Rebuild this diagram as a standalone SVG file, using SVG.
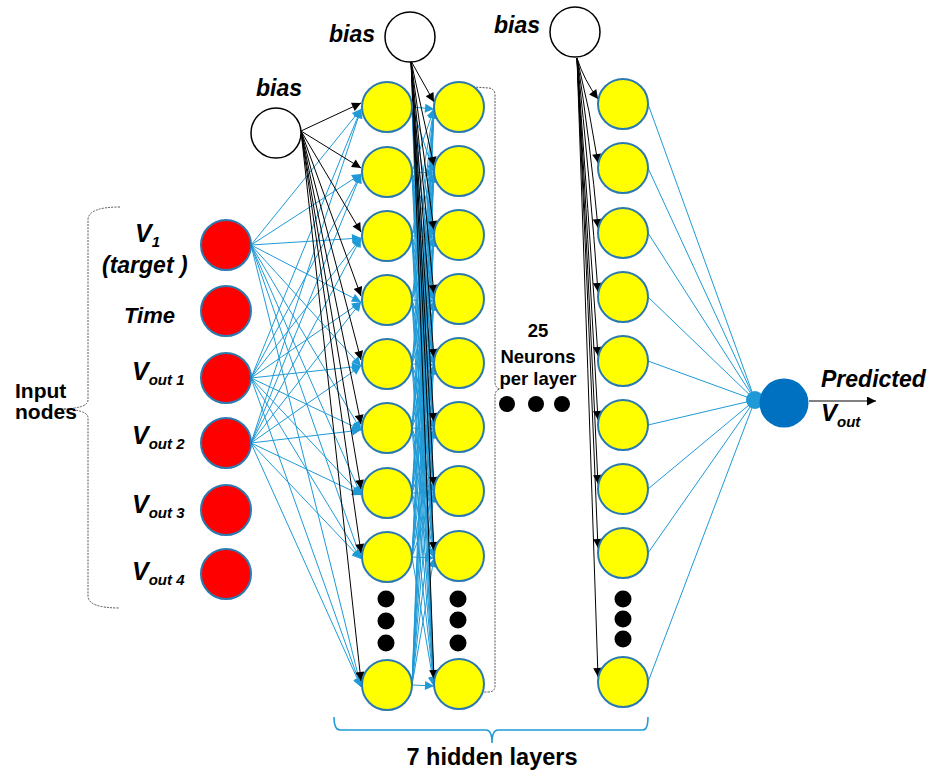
<svg xmlns="http://www.w3.org/2000/svg" width="936" height="774" viewBox="0 0 936 774">
<style>
.lb{stroke:#1f9ad6;stroke-width:1;fill:none}
.lba{stroke:#1f9ad6;stroke-width:1;fill:none;marker-end:url(#ab)}
.lk{stroke:#000;stroke-width:1;fill:none;marker-end:url(#ak)}
.in{fill:#ff0000;stroke:#2a7ab0;stroke-width:2}
.hn{fill:#ffff00;stroke:#2a7ab0;stroke-width:2}
.bn{fill:#fff;stroke:#000;stroke-width:1.5}
.dot{fill:#000}
.t{font-family:"Liberation Sans",Arial,sans-serif;font-weight:bold;fill:#000}
.ti{font-family:"Liberation Sans",Arial,sans-serif;font-weight:bold;font-style:italic;fill:#000}
</style>
<defs>
<marker id="ab" viewBox="0 0 10 10" refX="10" refY="5" markerWidth="11" markerHeight="9" markerUnits="userSpaceOnUse" orient="auto"><path d="M0,0 L10,5 L0,10 z" fill="#1f9ad6"/></marker>
<marker id="ak" viewBox="0 0 10 10" refX="10" refY="5" markerWidth="11" markerHeight="9" markerUnits="userSpaceOnUse" orient="auto"><path d="M0,0 L10,5 L0,10 z" fill="#000"/></marker>
</defs>
<rect width="936" height="774" fill="#fff"/>

<g id="connectors">
<!-- inputs to layer 1 -->
<line class="lba" x1="251" y1="245" x2="361" y2="109"/><line class="lba" x1="251" y1="245" x2="361" y2="174"/><line class="lba" x1="251" y1="245" x2="361" y2="238"/><line class="lba" x1="251" y1="245" x2="361" y2="302"/><line class="lba" x1="251" y1="245" x2="361" y2="366"/><line class="lba" x1="251" y1="245" x2="361" y2="430"/><line class="lba" x1="251" y1="245" x2="361" y2="495"/><line class="lba" x1="251" y1="245" x2="361" y2="559"/><line class="lba" x1="251" y1="245" x2="361" y2="687"/>
<line class="lba" x1="251" y1="378" x2="361" y2="109"/><line class="lba" x1="251" y1="378" x2="361" y2="174"/><line class="lba" x1="251" y1="378" x2="361" y2="238"/><line class="lba" x1="251" y1="378" x2="361" y2="302"/><line class="lba" x1="251" y1="378" x2="361" y2="366"/><line class="lba" x1="251" y1="378" x2="361" y2="430"/><line class="lba" x1="251" y1="378" x2="361" y2="495"/><line class="lba" x1="251" y1="378" x2="361" y2="559"/><line class="lba" x1="251" y1="378" x2="361" y2="687"/>
<line class="lba" x1="251" y1="443" x2="361" y2="109"/><line class="lba" x1="251" y1="443" x2="361" y2="174"/><line class="lba" x1="251" y1="443" x2="361" y2="238"/><line class="lba" x1="251" y1="443" x2="361" y2="302"/><line class="lba" x1="251" y1="443" x2="361" y2="366"/><line class="lba" x1="251" y1="443" x2="361" y2="430"/><line class="lba" x1="251" y1="443" x2="361" y2="495"/><line class="lba" x1="251" y1="443" x2="361" y2="559"/><line class="lba" x1="251" y1="443" x2="361" y2="687"/>
<!-- bias1 to layer 1 -->
<line class="lk" x1="301" y1="131" x2="361" y2="103"/><line class="lk" x1="301" y1="131" x2="361" y2="168"/><line class="lk" x1="301" y1="131" x2="361" y2="232"/><line class="lk" x1="301" y1="131" x2="361" y2="296"/><line class="lk" x1="301" y1="131" x2="361" y2="360"/><line class="lk" x1="301" y1="131" x2="361" y2="424"/><line class="lk" x1="301" y1="131" x2="361" y2="489"/><line class="lk" x1="301" y1="131" x2="361" y2="553"/><line class="lk" x1="301" y1="131" x2="361" y2="681"/>
<!-- layer 1 to layer 2 -->
<line class="lba" x1="412" y1="107" x2="434" y2="109"/><line class="lba" x1="412" y1="107" x2="434" y2="173"/><line class="lba" x1="412" y1="107" x2="434" y2="237"/><line class="lba" x1="412" y1="107" x2="434" y2="301"/><line class="lba" x1="412" y1="107" x2="434" y2="365"/><line class="lba" x1="412" y1="107" x2="434" y2="429"/><line class="lba" x1="412" y1="107" x2="434" y2="493"/><line class="lba" x1="412" y1="107" x2="434" y2="558"/><line class="lba" x1="412" y1="107" x2="434" y2="686"/>
<line class="lba" x1="412" y1="172" x2="434" y2="109"/><line class="lba" x1="412" y1="172" x2="434" y2="173"/><line class="lba" x1="412" y1="172" x2="434" y2="237"/><line class="lba" x1="412" y1="172" x2="434" y2="301"/><line class="lba" x1="412" y1="172" x2="434" y2="365"/><line class="lba" x1="412" y1="172" x2="434" y2="429"/><line class="lba" x1="412" y1="172" x2="434" y2="493"/><line class="lba" x1="412" y1="172" x2="434" y2="558"/><line class="lba" x1="412" y1="172" x2="434" y2="686"/>
<line class="lba" x1="412" y1="236" x2="434" y2="109"/><line class="lba" x1="412" y1="236" x2="434" y2="173"/><line class="lba" x1="412" y1="236" x2="434" y2="237"/><line class="lba" x1="412" y1="236" x2="434" y2="301"/><line class="lba" x1="412" y1="236" x2="434" y2="365"/><line class="lba" x1="412" y1="236" x2="434" y2="429"/><line class="lba" x1="412" y1="236" x2="434" y2="493"/><line class="lba" x1="412" y1="236" x2="434" y2="558"/><line class="lba" x1="412" y1="236" x2="434" y2="686"/>
<line class="lba" x1="412" y1="300" x2="434" y2="109"/><line class="lba" x1="412" y1="300" x2="434" y2="173"/><line class="lba" x1="412" y1="300" x2="434" y2="237"/><line class="lba" x1="412" y1="300" x2="434" y2="301"/><line class="lba" x1="412" y1="300" x2="434" y2="365"/><line class="lba" x1="412" y1="300" x2="434" y2="429"/><line class="lba" x1="412" y1="300" x2="434" y2="493"/><line class="lba" x1="412" y1="300" x2="434" y2="558"/><line class="lba" x1="412" y1="300" x2="434" y2="686"/>
<line class="lba" x1="412" y1="364" x2="434" y2="109"/><line class="lba" x1="412" y1="364" x2="434" y2="173"/><line class="lba" x1="412" y1="364" x2="434" y2="237"/><line class="lba" x1="412" y1="364" x2="434" y2="301"/><line class="lba" x1="412" y1="364" x2="434" y2="365"/><line class="lba" x1="412" y1="364" x2="434" y2="429"/><line class="lba" x1="412" y1="364" x2="434" y2="493"/><line class="lba" x1="412" y1="364" x2="434" y2="558"/><line class="lba" x1="412" y1="364" x2="434" y2="686"/>
<line class="lba" x1="412" y1="428" x2="434" y2="109"/><line class="lba" x1="412" y1="428" x2="434" y2="173"/><line class="lba" x1="412" y1="428" x2="434" y2="237"/><line class="lba" x1="412" y1="428" x2="434" y2="301"/><line class="lba" x1="412" y1="428" x2="434" y2="365"/><line class="lba" x1="412" y1="428" x2="434" y2="429"/><line class="lba" x1="412" y1="428" x2="434" y2="493"/><line class="lba" x1="412" y1="428" x2="434" y2="558"/><line class="lba" x1="412" y1="428" x2="434" y2="686"/>
<line class="lba" x1="412" y1="493" x2="434" y2="109"/><line class="lba" x1="412" y1="493" x2="434" y2="173"/><line class="lba" x1="412" y1="493" x2="434" y2="237"/><line class="lba" x1="412" y1="493" x2="434" y2="301"/><line class="lba" x1="412" y1="493" x2="434" y2="365"/><line class="lba" x1="412" y1="493" x2="434" y2="429"/><line class="lba" x1="412" y1="493" x2="434" y2="493"/><line class="lba" x1="412" y1="493" x2="434" y2="558"/><line class="lba" x1="412" y1="493" x2="434" y2="686"/>
<line class="lba" x1="412" y1="557" x2="434" y2="109"/><line class="lba" x1="412" y1="557" x2="434" y2="173"/><line class="lba" x1="412" y1="557" x2="434" y2="237"/><line class="lba" x1="412" y1="557" x2="434" y2="301"/><line class="lba" x1="412" y1="557" x2="434" y2="365"/><line class="lba" x1="412" y1="557" x2="434" y2="429"/><line class="lba" x1="412" y1="557" x2="434" y2="493"/><line class="lba" x1="412" y1="557" x2="434" y2="558"/><line class="lba" x1="412" y1="557" x2="434" y2="686"/>
<line class="lba" x1="412" y1="685" x2="434" y2="109"/><line class="lba" x1="412" y1="685" x2="434" y2="173"/><line class="lba" x1="412" y1="685" x2="434" y2="237"/><line class="lba" x1="412" y1="685" x2="434" y2="301"/><line class="lba" x1="412" y1="685" x2="434" y2="365"/><line class="lba" x1="412" y1="685" x2="434" y2="429"/><line class="lba" x1="412" y1="685" x2="434" y2="493"/><line class="lba" x1="412" y1="685" x2="434" y2="558"/><line class="lba" x1="412" y1="685" x2="434" y2="686"/>
<!-- bias2 to layer 2 -->
<line class="lk" x1="411" y1="61" x2="434" y2="102"/><line class="lk" x1="411" y1="61" x2="434" y2="166"/><line class="lk" x1="411" y1="61" x2="434" y2="230"/><line class="lk" x1="411" y1="61" x2="434" y2="294"/><line class="lk" x1="411" y1="61" x2="434" y2="358"/><line class="lk" x1="411" y1="61" x2="434" y2="422"/><line class="lk" x1="411" y1="61" x2="434" y2="486"/><line class="lk" x1="411" y1="61" x2="434" y2="551"/><line class="lk" x1="411" y1="61" x2="434" y2="679"/>
<!-- bias3 to last layer -->
<path class="lk" d="M577,58 Q584,80 598,99"/><path class="lk" d="M577,58 Q590,110 598,163"/><path class="lk" d="M577,58 Q590,140 598,228"/><path class="lk" d="M577,58 Q590,180 598,292"/><path class="lk" d="M577,58 Q588,210 598,356"/><path class="lk" d="M577,58 Q588,240 598,420"/><path class="lk" d="M577,58 Q588,270 598,484"/><path class="lk" d="M577,58 Q588,300 598,548"/><path class="lk" d="M577,58 Q588,370 598,677"/>
<!-- last layer to output -->
<line class="lb" x1="648" y1="104" x2="755" y2="400"/><line class="lb" x1="648" y1="168" x2="755" y2="400"/><line class="lb" x1="648" y1="233" x2="755" y2="400"/><line class="lb" x1="648" y1="297" x2="755" y2="400"/><line class="lb" x1="648" y1="361" x2="755" y2="400"/><line class="lb" x1="648" y1="425" x2="755" y2="400"/><line class="lb" x1="648" y1="489" x2="755" y2="400"/><line class="lb" x1="648" y1="553" x2="755" y2="400"/><line class="lb" x1="648" y1="682" x2="755" y2="400"/>
<!-- output arrow -->
<line class="lk" x1="809" y1="401" x2="876" y2="401"/>
</g>

<!-- braces -->
<g id="input-brace">
<path d="M120,207 Q88,207 88,220 L88,400 Q88,409 58,409 Q88,409 88,418 L88,596 Q88,608 120,608" fill="none" stroke="#555" stroke-width="1" stroke-dasharray="2 1.2"/>
<text class="t" x="15" y="398" font-size="21">Input</text>
<text class="t" x="15" y="419" font-size="21">nodes</text>
</g>
<g id="layer-brace">
<path d="M473,87 L489,88 Q495,89 495,95 L495,382 Q495,388 500,389 Q495,390 495,396 L495,686 Q495,692 488,692 L473,692" fill="none" stroke="#555" stroke-width="1" stroke-dasharray="2 1.2"/>
</g>
<g id="hidden-brace">
<path d="M334,717 Q334,730 340,730 L486,730 Q492,730 492,743 Q492,730 498,730 L643,730 Q648,730 648,717" fill="none" stroke="#1f9ad6" stroke-width="1.5"/>
<text class="t" x="492" y="765" font-size="23.5" text-anchor="middle">7 hidden layers</text>
</g>

<!-- input nodes -->
<g id="in-v1"><circle class="in" cx="226" cy="245" r="25"/><text class="ti" x="135" y="242" font-size="25">V<tspan font-size="15" dy="5">1</tspan></text><text class="ti" x="102" y="273" font-size="23">(target )</text></g>
<g id="in-time"><circle class="in" cx="226" cy="311" r="25"/><text class="ti" x="124" y="323" font-size="22">Time</text></g>
<g id="in-vout1"><circle class="in" cx="226" cy="378" r="25"/><text class="ti" x="132" y="380" font-size="25">V<tspan font-size="15" dy="5">out 1</tspan></text></g>
<g id="in-vout2"><circle class="in" cx="226" cy="443" r="25"/><text class="ti" x="132" y="444" font-size="25">V<tspan font-size="15" dy="5">out 2</tspan></text></g>
<g id="in-vout3"><circle class="in" cx="226" cy="510" r="25"/><text class="ti" x="132" y="513" font-size="25">V<tspan font-size="15" dy="5">out 3</tspan></text></g>
<g id="in-vout4"><circle class="in" cx="226" cy="574" r="25"/><text class="ti" x="132" y="580" font-size="25">V<tspan font-size="15" dy="5">out 4</tspan></text></g>

<!-- bias nodes -->
<g id="bias1"><circle class="bn" cx="276" cy="133" r="25"/><text class="ti" x="256" y="96" font-size="23">bias</text></g>
<g id="bias2"><circle class="bn" cx="410" cy="37" r="25"/><text class="ti" x="329" y="42" font-size="23">bias</text></g>
<g id="bias3"><circle class="bn" cx="575" cy="32" r="25"/><text class="ti" x="494" y="33" font-size="23">bias</text></g>

<!-- hidden layer 1 -->
<g id="h1-1"><circle class="hn" cx="387" cy="107" r="25"/></g>
<g id="h1-2"><circle class="hn" cx="387" cy="172" r="25"/></g>
<g id="h1-3"><circle class="hn" cx="387" cy="236" r="25"/></g>
<g id="h1-4"><circle class="hn" cx="387" cy="300" r="25"/></g>
<g id="h1-5"><circle class="hn" cx="387" cy="364" r="25"/></g>
<g id="h1-6"><circle class="hn" cx="387" cy="428" r="25"/></g>
<g id="h1-7"><circle class="hn" cx="387" cy="493" r="25"/></g>
<g id="h1-8"><circle class="hn" cx="387" cy="557" r="25"/></g>
<g id="h1-dots"><circle class="dot" cx="386" cy="599" r="8.5"/><circle class="dot" cx="386" cy="621" r="8.5"/><circle class="dot" cx="386" cy="643" r="8.5"/></g>
<g id="h1-25"><circle class="hn" cx="387" cy="685" r="25"/></g>

<!-- hidden layer 2 -->
<g id="h2-1"><circle class="hn" cx="459" cy="107" r="25"/></g>
<g id="h2-2"><circle class="hn" cx="459" cy="171" r="25"/></g>
<g id="h2-3"><circle class="hn" cx="459" cy="235" r="25"/></g>
<g id="h2-4"><circle class="hn" cx="459" cy="299" r="25"/></g>
<g id="h2-5"><circle class="hn" cx="459" cy="363" r="25"/></g>
<g id="h2-6"><circle class="hn" cx="459" cy="427" r="25"/></g>
<g id="h2-7"><circle class="hn" cx="459" cy="491" r="25"/></g>
<g id="h2-8"><circle class="hn" cx="459" cy="556" r="25"/></g>
<g id="h2-dots"><circle class="dot" cx="458" cy="599" r="8.5"/><circle class="dot" cx="458" cy="620" r="8.5"/><circle class="dot" cx="458" cy="643" r="8.5"/></g>
<g id="h2-25"><circle class="hn" cx="459" cy="684" r="25"/></g>

<!-- between layers -->
<g id="layer-dots"><circle class="dot" cx="507" cy="404" r="8"/><circle class="dot" cx="536" cy="404" r="8"/><circle class="dot" cx="562" cy="404" r="8"/></g>
<g id="neurons-label"><text class="t" font-size="18.5" text-anchor="middle"><tspan x="538" y="337">25</tspan><tspan x="538" y="363">Neurons</tspan><tspan x="538" y="385">per layer</tspan></text></g>

<!-- hidden layer 7 -->
<g id="h7-1"><circle class="hn" cx="623" cy="104" r="25"/></g>
<g id="h7-2"><circle class="hn" cx="623" cy="168" r="25"/></g>
<g id="h7-3"><circle class="hn" cx="623" cy="233" r="25"/></g>
<g id="h7-4"><circle class="hn" cx="623" cy="297" r="25"/></g>
<g id="h7-5"><circle class="hn" cx="623" cy="361" r="25"/></g>
<g id="h7-6"><circle class="hn" cx="623" cy="425" r="25"/></g>
<g id="h7-7"><circle class="hn" cx="623" cy="489" r="25"/></g>
<g id="h7-8"><circle class="hn" cx="623" cy="553" r="25"/></g>
<g id="h7-dots"><circle class="dot" cx="623" cy="599" r="8.5"/><circle class="dot" cx="623" cy="619" r="8.5"/><circle class="dot" cx="623" cy="639" r="8.5"/></g>
<g id="h7-25"><circle class="hn" cx="623" cy="682" r="25"/></g>

<!-- output -->
<g id="output"><circle cx="755" cy="400" r="9" fill="#1f9ad6"/><circle cx="784" cy="403" r="24.5" fill="#0070c0"/>
<text class="ti" x="821" y="387" font-size="23">Predicted</text>
<text class="ti" x="821" y="421" font-size="24">V<tspan font-size="15" dy="6">out</tspan></text></g>
</svg>
